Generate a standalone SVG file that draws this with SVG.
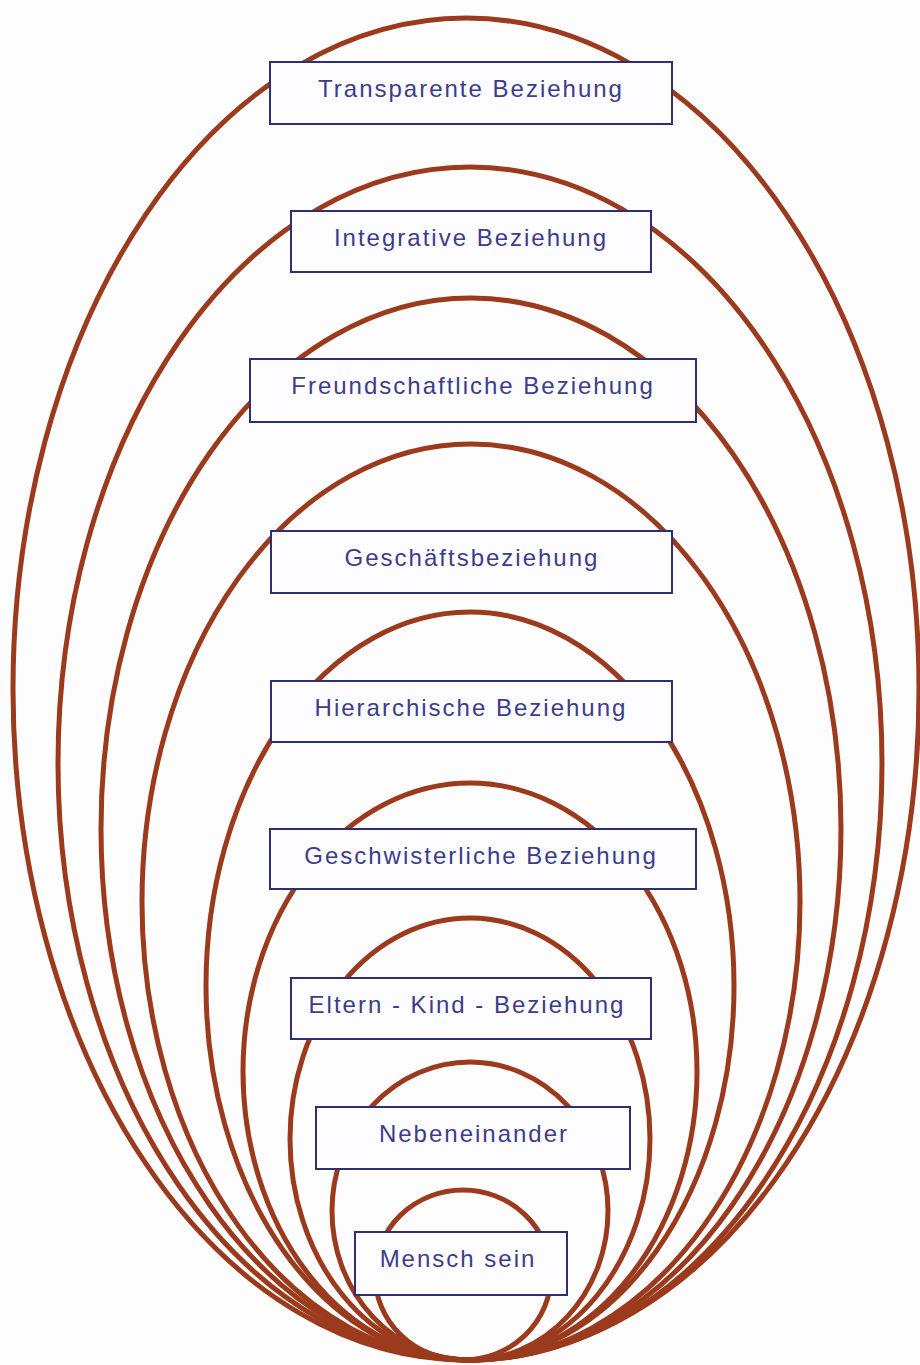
<svg xmlns="http://www.w3.org/2000/svg" width="920" height="1365" viewBox="0 0 920 1365">
<style>
.ring{fill:none;stroke:#9b3a1c;stroke-width:5}
.box{fill:#fdfdff;stroke:#2e2e72;stroke-width:2}
.lbl{font-family:"Liberation Sans",Arial,sans-serif;font-size:24px;letter-spacing:2px;fill:#3c3c8c;text-anchor:middle}
</style>
<rect width="920" height="1365" fill="#fdfdfd"/>
<g id="connectors">
<ellipse class="ring" cx="466" cy="689" rx="453" ry="671"/>
<ellipse class="ring" cx="470" cy="763.5" rx="412" ry="596.5"/>
<ellipse class="ring" cx="471" cy="829" rx="370" ry="531"/>
<ellipse class="ring" cx="471" cy="902" rx="329" ry="458"/>
<ellipse class="ring" cx="470" cy="986" rx="264" ry="374"/>
<ellipse class="ring" cx="470" cy="1071.5" rx="227" ry="288.5"/>
<ellipse class="ring" cx="470" cy="1139" rx="180" ry="221"/>
<ellipse class="ring" cx="470" cy="1211" rx="138" ry="149"/>
<ellipse class="ring" cx="463" cy="1275" rx="88" ry="85"/>
</g>
<g id="n1"><rect class="box" x="270" y="62" width="402" height="62"/><text class="lbl" x="471" y="97">Transparente Beziehung</text></g>
<g id="n2"><rect class="box" x="291" y="211" width="360" height="61"/><text class="lbl" x="471" y="246">Integrative Beziehung</text></g>
<g id="n3"><rect class="box" x="250" y="359" width="446" height="63"/><text class="lbl" x="473" y="394">Freundschaftliche Beziehung</text></g>
<g id="n4"><rect class="box" x="271" y="531" width="401" height="62"/><text class="lbl" x="472" y="566">Geschäftsbeziehung</text></g>
<g id="n5"><rect class="box" x="271" y="681" width="401" height="61"/><text class="lbl" x="471" y="716">Hierarchische Beziehung</text></g>
<g id="n6"><rect class="box" x="270" y="829" width="426" height="60"/><text class="lbl" x="481" y="864">Geschwisterliche Beziehung</text></g>
<g id="n7"><rect class="box" x="291" y="978" width="360" height="61"/><text class="lbl" x="467" y="1013">Eltern - Kind - Beziehung</text></g>
<g id="n8"><rect class="box" x="316" y="1107" width="314" height="62"/><text class="lbl" x="474" y="1142">Nebeneinander</text></g>
<g id="n9"><rect class="box" x="355" y="1232" width="212" height="63"/><text class="lbl" x="458" y="1267">Mensch sein</text></g>
</svg>
